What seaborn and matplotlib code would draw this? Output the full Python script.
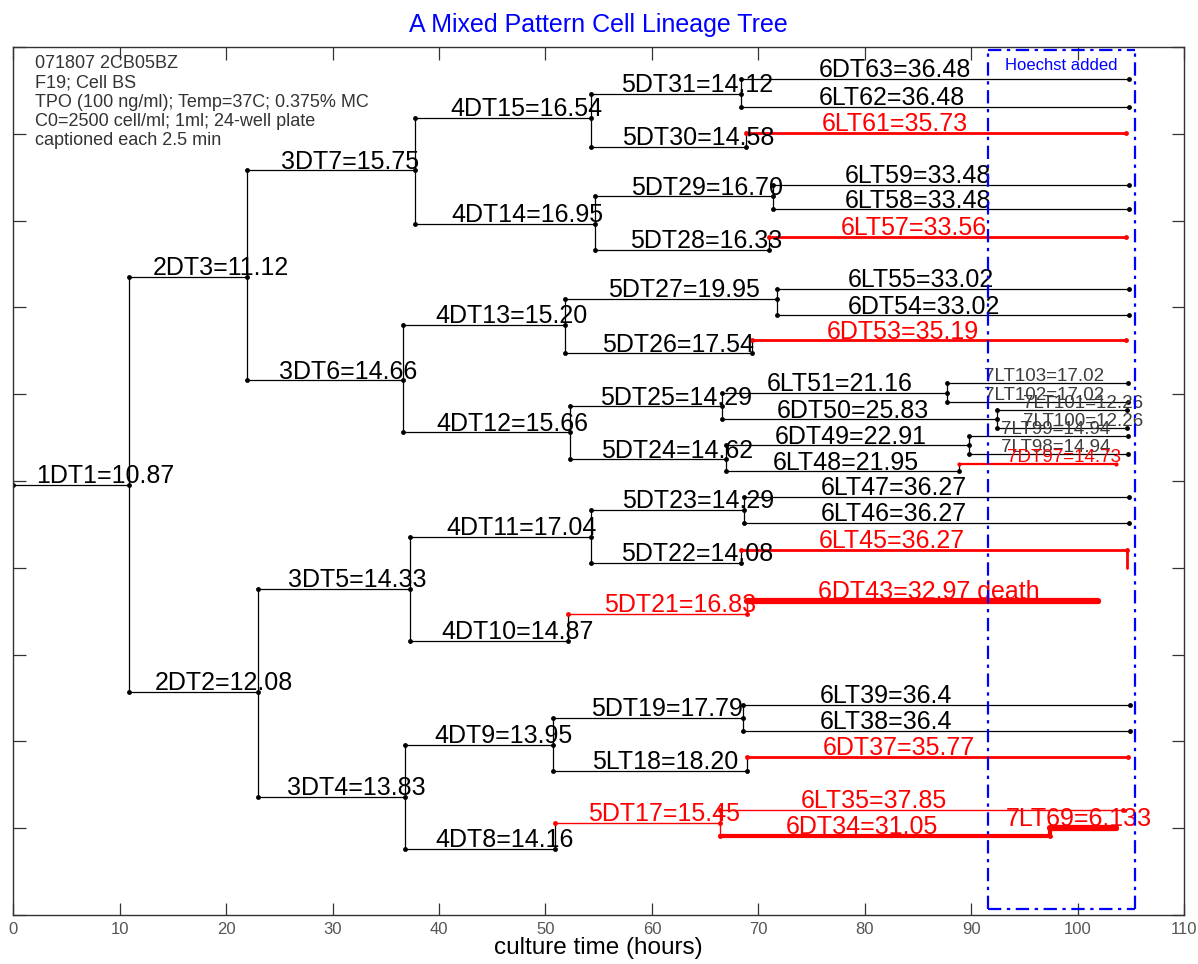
import pandas as pd
import matplotlib
matplotlib.use("Agg")
import matplotlib.pyplot as plt
import seaborn as sns

# ---- lineage data -------------------------------------------------------
cells = [
    "1DT1",
    "2DT3", "2DT2",
    "3DT7", "3DT6", "3DT5", "3DT4",
    "4DT15", "4DT14", "4DT13", "4DT12", "4DT11", "4DT10", "4DT9", "4DT8",
    "5DT31", "5DT30", "5DT29", "5DT28", "5DT27", "5DT26", "5DT25", "5DT24",
    "5DT23", "5DT22", "5DT21", "5DT19", "5LT18", "5DT17",
    "6DT63", "6LT62", "6LT61", "6LT59", "6LT58", "6LT57", "6LT55", "6DT54",
    "6DT53", "6LT51", "6DT50", "6DT49", "6LT48", "6LT47", "6LT46", "6LT45",
    "6DT43", "6LT39", "6LT38", "6DT37", "6LT35", "6DT34",
    "7LT103", "7LT102", "7LT101", "7LT100", "7LT99", "7LT98", "7DT97", "7LT69",
]
mothers = [
    None,
    "1DT1", "1DT1",
    "2DT3", "2DT3", "2DT2", "2DT2",
    "3DT7", "3DT7", "3DT6", "3DT6", "3DT5", "3DT5", "3DT4", "3DT4",
    "4DT15", "4DT15", "4DT14", "4DT14", "4DT13", "4DT13", "4DT12", "4DT12",
    "4DT11", "4DT11", "4DT10", "4DT9", "4DT9", "4DT8",
    "5DT31", "5DT31", "5DT30", "5DT29", "5DT29", "5DT28", "5DT27", "5DT27",
    "5DT26", "5DT25", "5DT25", "5DT24", "5DT24", "5DT23", "5DT23", "5DT22",
    "5DT21", "5DT19", "5DT19", "5LT18", "5DT17", "5DT17",
    "6LT51", "6LT51", "6DT50", "6DT50", "6DT49", "6DT49", "6LT48", "6DT34",
]
# generation times in hours, as annotated
lifetimes_txt = [
    "10.87",
    "11.12", "12.08",
    "15.75", "14.66", "14.33", "13.83",
    "16.54", "16.95", "15.20", "15.66", "17.04", "14.87", "13.95", "14.16",
    "14.12", "14.58", "16.70", "16.33", "19.95", "17.54", "14.29", "14.62",
    "14.29", "14.08", "16.83", "17.79", "18.20", "15.45",
    "36.48", "36.48", "35.73", "33.48", "33.48", "33.56", "33.02", "33.02",
    "35.19", "21.16", "25.83", "22.91", "21.95", "36.27", "36.27", "36.27",
    "32.97", "36.4", "36.4", "35.77", "37.85", "31.05",
    "17.02", "17.02", "12.26", "12.26", "14.94", "14.94", "14.73", "6.133",
]
# vertical row of each cell in the tree
rows = [
    4.96,
    7.35, 2.57,
    8.58, 6.16, 3.76, 1.36,
    9.18, 7.96, 6.80, 5.56, 4.36, 3.16, 1.96, 0.76,
    9.46, 8.85, 8.28, 7.66, 7.10, 6.47, 5.86, 5.25,
    4.67, 4.06, 3.47, 2.27, 1.66, 1.06,
    9.63, 9.31, 9.01, 8.41, 8.13, 7.81, 7.21, 6.91,
    6.62, 6.02, 5.71, 5.41, 5.11, 4.82, 4.52, 4.21,
    3.62, 2.42, 2.12, 1.82, 1.21, 0.91,
    6.13, 5.91, 5.82, 5.61, 5.52, 5.31, 5.20, 1.00,
]
tracks = [
    "k",
    "k", "k",
    "k", "k", "k", "k",
    "k", "k", "k", "k", "k", "k", "k", "k",
    "k", "k", "k", "k", "k", "k", "k", "k",
    "k", "k", "rthin", "k", "k", "rthin",
    "k", "k", "r", "k", "k", "r", "k", "k",
    "r", "k", "k", "k", "k", "k", "k", "r",
    "rheavy", "k", "k", "r", "rthin", "rthick",
    "k7", "k7", "k7", "k7", "k7", "k7", "r7", "rheavy",
]
notes = {"6DT43": " death"}
stubs = {"6LT45": -0.21}          # short end mark below a track

hoechst_added = 91.6               # h
observation_end = 105.4            # h

info_lines = [
    "071807 2CB05BZ",
    "F19; Cell BS",
    "TPO (100 ng/ml); Temp=37C; 0.375% MC",
    "C0=2500 cell/ml; 1ml; 24-well plate",
    "captioned each 2.5 min",
]
x_ticks = [0, 10, 20, 30, 40, 50, 60, 70, 80, 90, 100, 110]

# ---- styles -------------------------------------------------------------
STYLE = {
    "k":      dict(color="black", lw=0.9, ms=3.5, fs=18, fc="black", z=2),
    "k7":     dict(color="black", lw=0.9, ms=3.5, fs=13.5, fc="#3c3c3c", z=2),
    "r":      dict(color="red", lw=2.0, ms=3.5, fs=18, fc="red", z=3),
    "r7":     dict(color="red", lw=1.6, ms=3.0, fs=13.5, fc="red", z=3),
    "rthin":  dict(color="red", lw=1.0, ms=3.5, fs=18, fc="red", z=3),
    "rthick": dict(color="red", lw=3.0, ms=3.5, fs=18, fc="red", z=3),
    "rheavy": dict(color="red", lw=4.5, ms=3.5, fs=18, fc="red", z=3),
}
label_shift = {"7LT69": -5.4, "7DT97": 1.5}

sns.set_theme(style="ticks")
plt.rcParams["font.family"] = ["Liberation Sans", "DejaVu Sans"]

# ---- derived timing -----------------------------------------------------
lifetimes = [float(s) for s in lifetimes_txt]
start, end, row, trk, life = {}, {}, {}, {}, {}
for c, m, lt, r, t in zip(cells, mothers, lifetimes, rows, tracks):
    start[c] = end[m] if m else 0.0
    end[c] = start[c] + lt
    row[c], trk[c], life[c] = r, t, lt

seg = pd.DataFrame(
    [dict(cell=c, t=start[c], y=row[c], track=trk[c]) for c in cells]
    + [dict(cell=c, t=end[c], y=row[c], track=trk[c]) for c in cells]
)

links = []
for m in dict.fromkeys(x for x in mothers if x):
    ys = [row[c] for c, mm in zip(cells, mothers) if mm == m]
    if len(ys) == 1:
        ys.append(row[m])
    for yy in (min(ys), max(ys)):
        links.append(dict(cell=m, t=end[m], y=yy, track=trk[m]))
for c, dy in stubs.items():
    links.append(dict(cell=c + "_s", t=end[c], y=row[c], track=trk[c]))
    links.append(dict(cell=c + "_s", t=end[c], y=row[c] + dy, track=trk[c]))
links = pd.DataFrame(links)

# ---- figure -------------------------------------------------------------
fig = plt.figure(figsize=(11.98, 9.64), dpi=100)
ax = fig.add_axes([0.0112, 0.0508, 0.9771, 0.9004])

for t, sub in links.groupby("track"):
    st = STYLE[t]
    sns.lineplot(data=sub, x="t", y="y", units="cell", estimator=None,
                 sort=False, color=st["color"], linewidth=min(st["lw"], 3.0),
                 ax=ax, zorder=st["z"], legend=False)

for t, sub in seg.groupby("track"):
    st = STYLE[t]
    sns.lineplot(data=sub, x="t", y="y", units="cell", estimator=None,
                 sort=False, color=st["color"], linewidth=st["lw"],
                 marker="o", markersize=st["ms"], markeredgewidth=0,
                 ax=ax, zorder=st["z"], legend=False,
                 solid_capstyle="round")

for c, txt in zip(cells, lifetimes_txt):
    st = STYLE[trk[c]]
    x = start[c] + 0.2 * life[c] + label_shift.get(c, 0.0)
    ax.text(x, row[c] + 0.02, f"{c}={txt}{notes.get(c, '')}",
            fontsize=st["fs"], color=st["fc"], ha="left", va="baseline",
            zorder=4)

# Hoechst window
box_kw = dict(color="#0000ff", lw=1.6, dashes=(6, 2.5, 1.5, 2.5),
              transform=ax.get_xaxis_transform(), zorder=5, clip_on=False)
yb, yt = 0.007, 0.997
ax.plot([hoechst_added, hoechst_added], [yb, yt], **box_kw)
ax.plot([observation_end, observation_end], [yb, yt], **box_kw)
ax.plot([hoechst_added, observation_end], [yb, yb], **box_kw)
ax.plot([hoechst_added, observation_end], [yt, yt], **box_kw)
ax.text((hoechst_added + observation_end) / 2, 0.987, "Hoechst added",
        transform=ax.get_xaxis_transform(), fontsize=12, color="#0000ff",
        ha="center", va="top", zorder=6)

ax.text(2.0, 9.91, "\n".join(info_lines), fontsize=13, color="#333333",
        ha="left", va="top", linespacing=1.18)

ax.set_xlim(0, 110)
ax.set_ylim(0, 10)
ax.set_xticks(x_ticks)
ax.set_xticklabels([str(v) for v in x_ticks])
ax.set_yticks(range(0, 11))
ax.tick_params(axis="both", direction="in", length=9, width=0.9,
               color="#333333", labelcolor="#555555", labelsize=12,
               top=True, right=True, labelleft=False, pad=5)
for s in ax.spines.values():
    s.set_visible(True)
    s.set_color("#333333")
    s.set_linewidth(1.0)
ax.set_ylabel("")
ax.set_xlabel("culture time (hours)", fontsize=17.5, color="black",
              labelpad=0)
ax.set_title("A Mixed Pattern Cell Lineage Tree", fontsize=18,
             color="#0000ff", pad=11)

fig.savefig("out.png", dpi=100, facecolor="white")
